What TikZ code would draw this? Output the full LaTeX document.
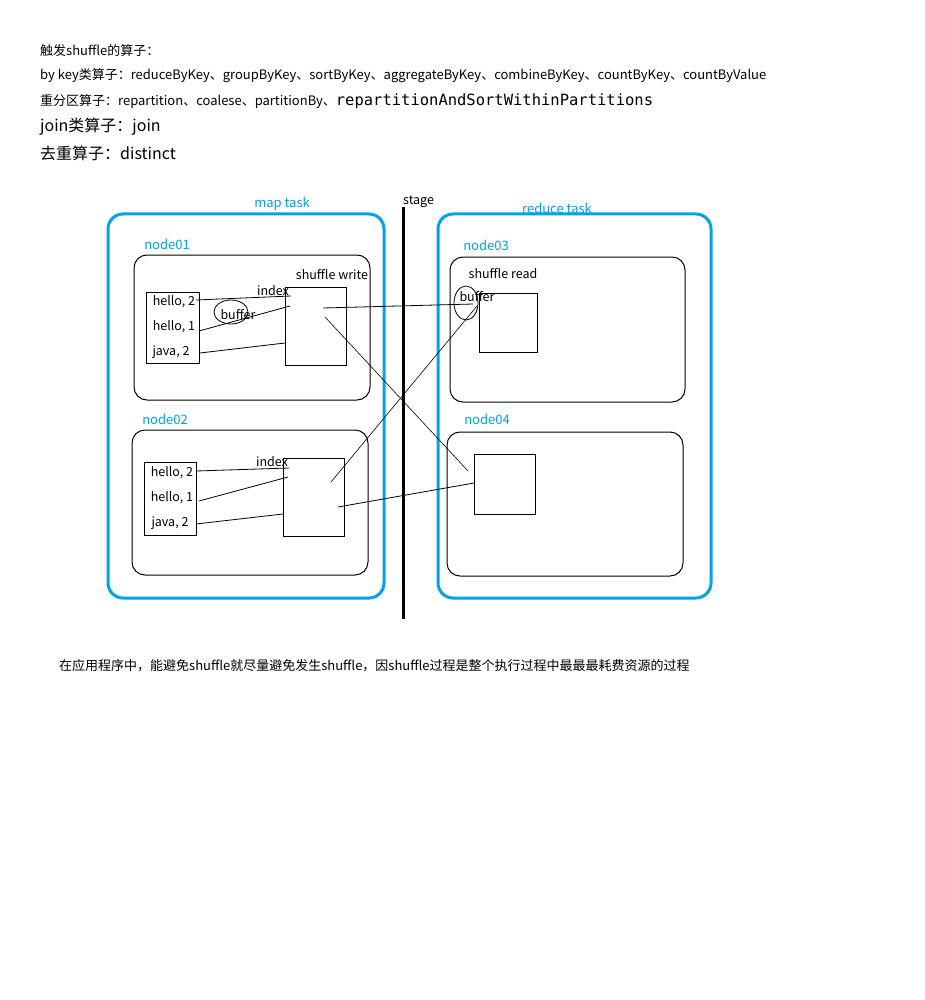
\documentclass[tikz,border=0pt]{standalone}
\usepackage{fontspec}
\setmainfont{Noto Sans CJK SC}
\newfontfamily\monof{DejaVu Sans Mono}
\usetikzlibrary{shapes.geometric}
\definecolor{pblue}{RGB}{0,162,232}
\tikzset{
  txt/.style={inner sep=0pt, anchor=west, font=\fontsize{13}{15}\selectfont},
  bigtxt/.style={inner sep=0pt, anchor=west, font=\fontsize{16}{18}\selectfont},
  btxt/.style={inner sep=0pt, text=pblue, font=\fontsize{13}{15}\selectfont},
  task/.style={draw=pblue, line width=3pt, rounded corners=15pt},
  nodebox/.style={draw=black, line width=1pt, rounded corners=13pt},
  plain/.style={draw=black, line width=1pt},
  lbl/.style={inner sep=0pt, font=\fontsize{12.5}{14}\selectfont},
  wire/.style={line width=0.8pt},
}
\begin{document}
\begin{tikzpicture}[x=1pt,y=-1pt]
\useasboundingbox[fill=white] (0,0) rectangle (924,1000);
% header text
\node[txt] (t1) at (40,51) {触发shuffle的算子：};
\node[txt] (t2) at (40,76) {by key类算子：reduceByKey、groupByKey、sortByKey、aggregateByKey、combineByKey、countByKey、countByValue};
\node[txt] (t3) at (40,101) {重分区算子：repartition、coalese、partitionBy、{\monof\fontsize{15.5}{17}\selectfont repartitionAndSortWithinPartitions}};
\node[bigtxt] (t4) at (40,127) {join类算子：join};
\node[bigtxt] (t5) at (40,153) {去重算子：distinct};
% task boxes
\draw[task] (108,214) rectangle (384,598);
\node[btxt] (maplbl) at (282,204) {map task};
\draw[task] (438,214) rectangle (711,598);
\node[btxt] (redlbl) at (557,208) {reduce task};
% stage
\draw[line width=3pt] (403,207) -- (403,619);
\node[lbl, anchor=west] (stagelbl) at (403,202) {stage};
% node01
\node[btxt] (n1lbl) at (167,244) {node01};
\draw[nodebox] (134,255) rectangle (370,400);
\node[plain, minimum width=53pt, minimum height=71pt, inner sep=0pt] (list1) at (172.5,327.5) {};
\node[lbl] (h12) at (174,302) {hello, 2};
\node[lbl] (h11) at (174,327) {hello, 1};
\node[lbl] (j12) at (171,352) {java, 2};
\node[draw, ellipse, line width=0.8pt, minimum width=34pt, minimum height=24pt, inner sep=0pt] (buf1) at (231,312) {};
\node[lbl] (buf1t) at (238,315) {buffer};
\node[lbl] (idx1) at (273,291) {index};
\node[plain, minimum width=61pt, minimum height=78pt, inner sep=0pt] (sw1) at (315.5,326) {};
\node[lbl] (swt) at (332,275) {shuffle write};
% node02
\node[btxt] (n2lbl) at (165,419) {node02};
\draw[nodebox] (132,430) rectangle (368,575);
\node[plain, minimum width=52pt, minimum height=73pt, inner sep=0pt] (list2) at (170,498.5) {};
\node[lbl] (h22) at (172,473) {hello, 2};
\node[lbl] (h21) at (172,498) {hello, 1};
\node[lbl] (j22) at (170,523) {java, 2};
\node[lbl] (idx2) at (272,462) {index};
\node[plain, minimum width=61pt, minimum height=78pt, inner sep=0pt] (sw2) at (313.5,497) {};
% node03
\node[btxt] (n3lbl) at (486,245) {node03};
\draw[nodebox] (450,257) rectangle (685,402);
\node[lbl] (srt) at (503,274) {shuffle read};
\node[plain, minimum width=58pt, minimum height=59pt, inner sep=0pt] (sr3) at (508,322.5) {};
\node[draw, ellipse, line width=0.8pt, minimum width=24pt, minimum height=34pt, inner sep=0pt] (buf3) at (466,303) {};
\node[lbl] (buf3t) at (477,297) {buffer};
% node04
\node[btxt] (n4lbl) at (487,419) {node04};
\draw[nodebox] (447,432) rectangle (683,576);
\node[plain, minimum width=61pt, minimum height=60pt, inner sep=0pt] (sr4) at (504.5,484) {};
% wire coordinates
\coordinate (a1) at (196,300); \coordinate (a2) at (291,296);
\coordinate (b1) at (199,331); \coordinate (b2) at (290,306);
\coordinate (c1) at (200,353); \coordinate (c2) at (285,343);
\coordinate (d1) at (196,471); \coordinate (d2) at (289,468);
\coordinate (e1) at (199,501); \coordinate (e2) at (288,477);
\coordinate (f1) at (196,524); \coordinate (f2) at (283,514);
\coordinate (o1) at (323,308); \coordinate (o1e) at (473,304);
\coordinate (o2) at (325,317); \coordinate (o2e) at (468,471);
\coordinate (o3) at (331,482); \coordinate (o3e) at (477,306);
\coordinate (o4) at (338,507); \coordinate (o4e) at (474,483);
\draw[wire] (a1) -- (a2);
\draw[wire] (b1) -- (b2);
\draw[wire] (c1) -- (c2);
\draw[wire] (d1) -- (d2);
\draw[wire] (e1) -- (e2);
\draw[wire] (f1) -- (f2);
\draw[wire] (o1) -- (o1e);
\draw[line width=0.6pt] (o2) -- (o2e);
\draw[line width=0.6pt] (o3) -- (o3e);
\draw[wire] (o4) -- (o4e);
% bottom text
\node[txt] (bottom) at (59,666) {在应用程序中，能避免shuffle就尽量避免发生shuffle，因shuffle过程是整个执行过程中最最最耗费资源的过程};
\end{tikzpicture}
\end{document}
